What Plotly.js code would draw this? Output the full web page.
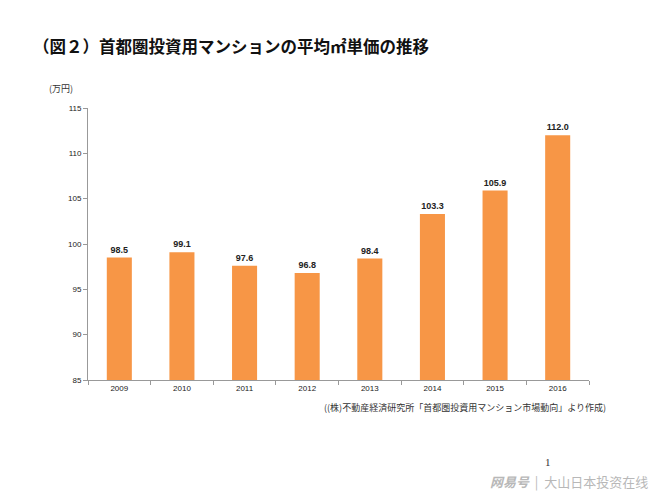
<!DOCTYPE html>
<html><head><meta charset="utf-8">
<script src="https://cdn.plot.ly/plotly-3.0.1.min.js"></script>
<style>html,body{margin:0;padding:0;background:#fff;}#c{width:660px;height:495px;}</style>
</head><body><div id="c"></div>
<script>
const years = ["2009","2010","2011","2012","2013","2014","2015","2016"];
const prices = [98.5, 99.1, 97.6, 96.8, 98.4, 103.3, 105.9, 112.0];
const yTicks = [85, 90, 95, 100, 105, 110, 115];

const jp = '"Noto Sans CJK JP", sans-serif';
const trace = {
  type: 'bar', x: years, y: prices, width: 0.4,
  marker: {color: '#F79646'},
  text: prices.map(v => v.toFixed(1)),
  textposition: 'outside', cliponaxis: false,
  textfont: {family: '"Liberation Sans", Arial, sans-serif', size: 9, color: '#222'},
  texttemplate: '<b>%{text}</b>',
  hoverinfo: 'skip'
};
const layout = {
  width: 660, height: 495,
  margin: {l: 88, r: 71, t: 108, b: 115},
  paper_bgcolor: '#fff', plot_bgcolor: '#fff',
  showlegend: false,
  xaxis: {type: 'category', showline: true, linecolor: '#999', linewidth: 1,
    ticks: 'outside', tickson: 'boundaries', ticklen: 4, tickcolor: '#999',
    tickfont: {family: '"Liberation Sans", Arial, sans-serif', size: 8, color: '#222'},
    showgrid: false, fixedrange: true},
  yaxis: {range: [85, 115], tickvals: yTicks, showline: true, linecolor: '#999', linewidth: 1,
    ticks: 'outside', ticklen: 4, tickcolor: '#999', showgrid: false, zeroline: false,
    tickfont: {family: '"Liberation Sans", Arial, sans-serif', size: 8, color: '#222'},
    fixedrange: true},
  annotations: [
    {xref: 'paper', yref: 'paper', x: (47-88)/501, y: (380-88)/272, xanchor: 'left', yanchor: 'middle',
     text: '(万円)', showarrow: false, font: {family: jp, size: 9, color: '#333'}},
    {xref: 'paper', yref: 'paper', x: (608-88)/501, y: -(407-380)/272, xanchor: 'right', yanchor: 'middle',
     text: '((株)不動産経済研究所「首都圏投資用マンション市場動向」より作成)', showarrow: false,
     font: {family: jp, size: 9, color: '#333'}},
    {xref: 'paper', yref: 'paper', x: (548-88)/501, y: -(462-380)/272, xanchor: 'center', yanchor: 'middle',
     text: '1', showarrow: false, font: {family: '"Liberation Serif", serif', size: 11, color: '#333'}},
    {xref: 'paper', yref: 'paper', x: (650-88)/501, y: -(481-380)/272, xanchor: 'right', yanchor: 'middle',
     text: '<b><i>网易号</i></b>  |  大山日本投资在线', showarrow: false,
     font: {family: '"Noto Sans CJK SC", sans-serif', size: 13, color: '#b8b8b8'}}
  ],
  title: {text: '<b>（図２）首都圏投資用マンションの平均㎡単価の推移</b>', x: 33/660, xanchor: 'left',
    y: 1 - 47/495, yanchor: 'middle', font: {family: jp, size: 16.5, color: '#111'}}
};
Plotly.newPlot('c', [trace], layout, {displayModeBar: false, staticPlot: true});
</script></body></html>
